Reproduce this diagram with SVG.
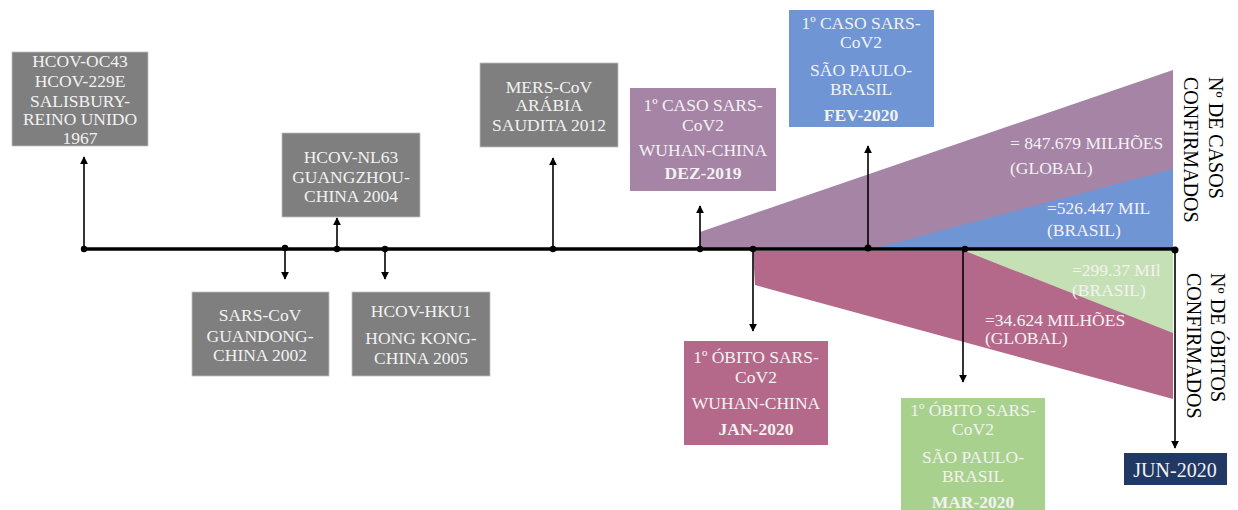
<svg xmlns="http://www.w3.org/2000/svg" width="1238" height="510" viewBox="0 0 1238 510">
<style>
.t{font-family:"Liberation Serif","Times New Roman",serif;font-size:17.5px;fill:#f2f2f2;text-anchor:middle}
.b{font-weight:bold}
.v{font-family:"Liberation Serif","Times New Roman",serif;font-size:17.5px;fill:#f2f2f2}
.r{font-family:"Liberation Serif","Times New Roman",serif;font-size:20px;fill:#000}
.grey{fill:#7f7f7f;stroke:#bfbfbf;stroke-width:0.8}
.conn{stroke:#000;stroke-width:1.6;fill:none;marker-end:url(#ah)}
</style>
<defs>
<marker id="ah" viewBox="0 0 10 10" refX="9" refY="5" markerWidth="5" markerHeight="5" orient="auto" markerUnits="strokeWidth">
<path d="M0,0 L10,5 L0,10 z" fill="#000"/>
</marker>
</defs>
<rect width="1238" height="510" fill="#fff"/>
<g id="areas">
<polygon points="700,250 700,232 1173,70 1173,250" fill="#a684a6"/>
<polygon points="868,250 1173,169 1173,250" fill="#6f95d4"/>
<polygon points="753,251 1173,251 1173,399 755,285" fill="#b5698a"/>
<polygon points="965,251 1173,251 1173,333" fill="#c5e0b4"/>
<text class="v" x="1010" y="149">= 847.679 MILHÕES</text>
<text class="v" x="1010" y="174">(GLOBAL)</text>
<text class="v" x="1047" y="214">=526.447 MIL</text>
<text class="v" x="1047" y="236">(BRASIL)</text>
<text class="v" x="1072" y="276">=299.37 MIl</text>
<text class="v" x="1072" y="296">(BRASIL)</text>
<text class="v" x="985" y="326">=34.624 MILHÕES</text>
<text class="v" x="985" y="344">(GLOBAL)</text>
</g>
<g id="connectors">
<line x1="84" y1="249" x2="1175" y2="249" stroke="#000" stroke-width="3.5"/>
<line class="conn" x1="84" y1="249" x2="84" y2="157"/>
<line class="conn" x1="285" y1="249" x2="285" y2="279"/>
<line class="conn" x1="337" y1="249" x2="337" y2="218"/>
<line class="conn" x1="385" y1="249" x2="385" y2="279"/>
<line class="conn" x1="553" y1="249" x2="553" y2="158"/>
<line class="conn" x1="700" y1="249" x2="700" y2="206"/>
<line class="conn" x1="753" y1="249" x2="753" y2="331"/>
<line class="conn" x1="868" y1="249" x2="868" y2="146"/>
<line class="conn" x1="963" y1="249" x2="963" y2="382"/>
<line class="conn" x1="1175" y1="249" x2="1175" y2="448"/>
<g fill="#000">
<circle cx="84" cy="249" r="3.2"/><circle cx="285" cy="248" r="3.2"/><circle cx="337" cy="249" r="3.2"/>
<circle cx="385" cy="249" r="3.2"/><circle cx="553" cy="249" r="3.2"/><circle cx="700" cy="249" r="3.2"/>
<circle cx="753" cy="249" r="3.2"/><circle cx="868" cy="248" r="3.5"/><circle cx="965" cy="249" r="3.2"/>
<circle cx="1175" cy="250" r="3.5"/>
</g>
</g>
<g id="n1967">
<rect class="grey" x="12" y="52" width="136" height="94"/>
<text class="t" x="80" y="67">HCOV-OC43</text>
<text class="t" x="80" y="87">HCOV-229E</text>
<text class="t" x="80" y="107">SALISBURY-</text>
<text class="t" x="80" y="125">REINO UNIDO</text>
<text class="t" x="80" y="144">1967</text>
</g>
<g id="n2004">
<rect class="grey" x="282" y="133" width="138" height="84"/>
<text class="t" x="351" y="163">HCOV-NL63</text>
<text class="t" x="351" y="183">GUANGZHOU-</text>
<text class="t" x="351" y="202">CHINA 2004</text>
</g>
<g id="n2002">
<rect class="grey" x="192" y="292" width="137" height="84"/>
<text class="t" x="260" y="321">SARS-CoV</text>
<text class="t" x="260" y="342">GUANDONG-</text>
<text class="t" x="260" y="361">CHINA 2002</text>
</g>
<g id="n2005">
<rect class="grey" x="352" y="292" width="138" height="84"/>
<text class="t" x="421" y="317">HCOV-HKU1</text>
<text class="t" x="421" y="344">HONG KONG-</text>
<text class="t" x="421" y="364">CHINA 2005</text>
</g>
<g id="n2012">
<rect class="grey" x="480" y="63" width="138" height="84"/>
<text class="t" x="549" y="93">MERS-CoV</text>
<text class="t" x="549" y="111">ARÁBIA</text>
<text class="t" x="549" y="131">SAUDITA 2012</text>
</g>
<g id="ndez2019">
<rect x="630" y="88" width="146" height="103" fill="#a684a6"/>
<text class="t" x="703" y="111">1º CASO SARS-</text>
<text class="t" x="703" y="131">CoV2</text>
<text class="t" x="703" y="156">WUHAN-CHINA</text>
<text class="t b" x="703" y="179">DEZ-2019</text>
</g>
<g id="nfev2020">
<rect x="789" y="10" width="145" height="117" fill="#6f95d4"/>
<text class="t" x="861" y="29">1º CASO SARS-</text>
<text class="t" x="861" y="48">CoV2</text>
<text class="t" x="861" y="76">SÃO PAULO-</text>
<text class="t" x="861" y="95">BRASIL</text>
<text class="t b" x="861" y="121">FEV-2020</text>
</g>
<g id="njan2020">
<rect x="684" y="341" width="144" height="104" fill="#b5698a"/>
<text class="t" x="756" y="363">1º ÓBITO SARS-</text>
<text class="t" x="756" y="383">CoV2</text>
<text class="t" x="756" y="409">WUHAN-CHINA</text>
<text class="t b" x="756" y="435">JAN-2020</text>
</g>
<g id="nmar2020">
<rect x="901" y="398" width="144" height="115" fill="#a9d18e"/>
<text class="t" x="973" y="416">1º ÓBITO SARS-</text>
<text class="t" x="973" y="435">CoV2</text>
<text class="t" x="973" y="463">SÃO PAULO-</text>
<text class="t" x="973" y="482">BRASIL</text>
<text class="t b" x="973" y="508">MAR-2020</text>
</g>
<g id="njun2020">
<rect x="1124" y="453" width="103" height="32" fill="#203864"/>
<text class="t" x="1175" y="477" style="font-size:20px">JUN-2020</text>
</g>
<g id="casos-label">
<text class="r" transform="translate(1209,77) rotate(90)">Nº DE CASOS</text>
<text class="r" transform="translate(1184,77) rotate(90)">CONFIRMADOS</text>
</g>
<g id="obitos-label">
<text class="r" transform="translate(1211,273) rotate(90)">Nº DE ÓBITOS</text>
<text class="r" transform="translate(1187,273) rotate(90)">CONFIRMADOS</text>
</g>
</svg>
